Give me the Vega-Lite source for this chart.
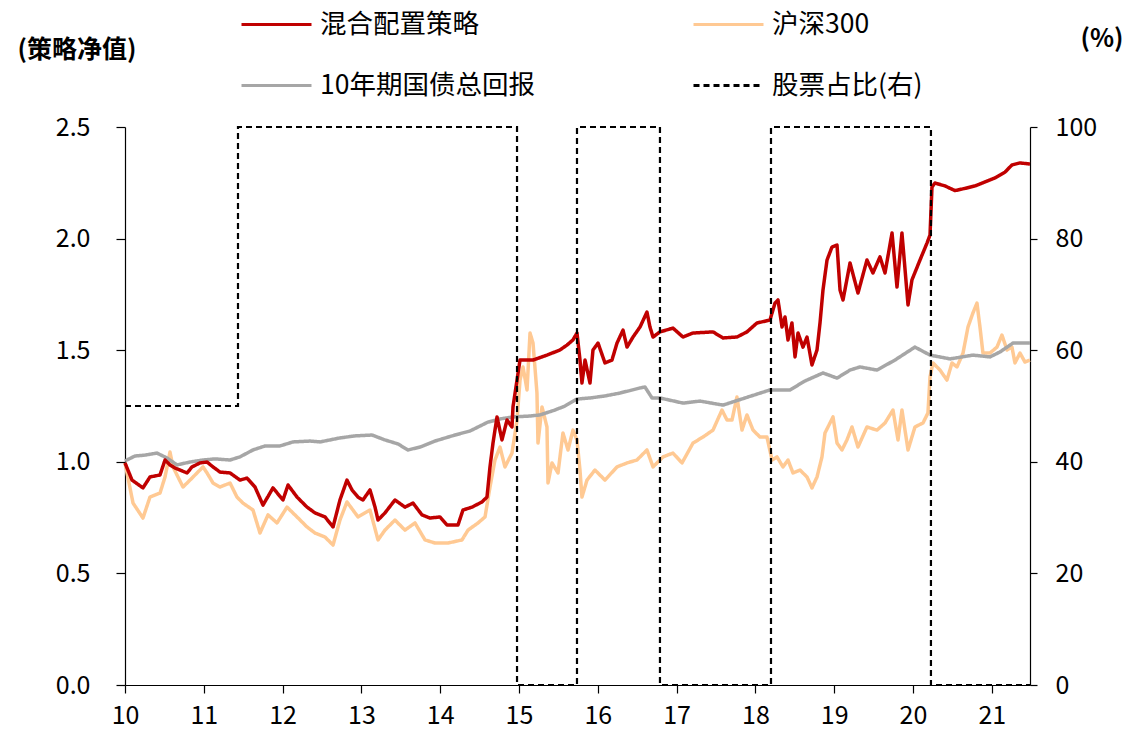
{
"$schema": "https://vega.github.io/schema/vega-lite/v6.json",
"width": 905, "height": 558,
"autosize": {"type": "none"},
"padding": {"left": 125, "top": 127, "right": 95, "bottom": 51},
"background": "white",
"config": {
 "view": {"stroke": null},
 "font": "Noto Sans CJK SC",
 "axis": {"grid": false, "domainColor": "#000", "tickColor": "#000", "labelColor": "#000", "titleColor": "#000", "labelFontSize": 25, "domainWidth": 1.2, "tickWidth": 1.2, "labelFont": "Noto Sans CJK SC", "titleFont": "Noto Sans CJK SC"},
 "legend": {"labelFont": "Noto Sans CJK SC"}
},
"datasets": {
 "nav": [
{"series":"混合配置策略","t":10.000,"v":0.995},{"series":"混合配置策略","t":10.089,"v":0.918},{"series":"混合配置策略","t":10.228,"v":0.883},{"series":"混合配置策略","t":10.317,"v":0.932},{"series":"混合配置策略","t":10.444,"v":0.941},{"series":"混合配置策略","t":10.508,"v":1.008},{"series":"混合配置策略","t":10.571,"v":0.986},{"series":"混合配置策略","t":10.635,"v":0.972},{"series":"混合配置策略","t":10.787,"v":0.950},{"series":"混合配置策略","t":10.850,"v":0.977},{"series":"混合配置策略","t":10.952,"v":0.995},{"series":"混合配置策略","t":11.041,"v":0.999},{"series":"混合配置策略","t":11.117,"v":0.977},{"series":"混合配置策略","t":11.206,"v":0.954},{"series":"混合配置策略","t":11.333,"v":0.950},{"series":"混合配置策略","t":11.459,"v":0.918},{"series":"混合配置策略","t":11.548,"v":0.927},{"series":"混合配置策略","t":11.650,"v":0.887},{"series":"混合配置策略","t":11.751,"v":0.806},{"series":"混合配置策略","t":11.878,"v":0.883},{"series":"混合配置策略","t":12.005,"v":0.829},{"series":"混合配置策略","t":12.069,"v":0.896},{"series":"混合配置策略","t":12.183,"v":0.842},{"series":"混合配置策略","t":12.310,"v":0.797},{"series":"混合配置策略","t":12.411,"v":0.771},{"series":"混合配置策略","t":12.538,"v":0.753},{"series":"混合配置策略","t":12.640,"v":0.708},{"series":"混合配置策略","t":12.728,"v":0.829},{"series":"混合配置策略","t":12.817,"v":0.918},{"series":"混合配置策略","t":12.881,"v":0.874},{"series":"混合配置策略","t":12.957,"v":0.842},{"series":"混合配置策略","t":13.020,"v":0.829},{"series":"混合配置策略","t":13.109,"v":0.874},{"series":"混合配置策略","t":13.173,"v":0.797},{"series":"混合配置策略","t":13.211,"v":0.739},{"series":"混合配置策略","t":13.299,"v":0.771},{"series":"混合配置策略","t":13.426,"v":0.829},{"series":"混合配置策略","t":13.553,"v":0.797},{"series":"混合配置策略","t":13.655,"v":0.815},{"series":"混合配置策略","t":13.769,"v":0.762},{"series":"混合配置策略","t":13.871,"v":0.748},{"series":"混合配置策略","t":13.997,"v":0.753},{"series":"混合配置策略","t":14.086,"v":0.717},{"series":"混合配置策略","t":14.226,"v":0.717},{"series":"混合配置策略","t":14.289,"v":0.784},{"series":"混合配置策略","t":14.404,"v":0.797},{"series":"混合配置策略","t":14.530,"v":0.820},{"series":"混合配置策略","t":14.594,"v":0.842},{"series":"混合配置策略","t":14.632,"v":0.977},{"series":"混合配置策略","t":14.670,"v":1.084},{"series":"混合配置策略","t":14.721,"v":1.201},{"series":"混合配置策略","t":14.784,"v":1.098},{"series":"混合配置策略","t":14.848,"v":1.187},{"series":"混合配置策略","t":14.911,"v":1.156},{"series":"混合配置策略","t":14.924,"v":1.246},{"series":"混合配置策略","t":14.975,"v":1.366},{"series":"混合配置策略","t":15.013,"v":1.456},{"series":"混合配置策略","t":15.178,"v":1.456},{"series":"混合配置策略","t":15.355,"v":1.478},{"series":"混合配置策略","t":15.520,"v":1.501},{"series":"混合配置策略","t":15.609,"v":1.523},{"series":"混合配置策略","t":15.685,"v":1.546},{"series":"混合配置策略","t":15.736,"v":1.577},{"series":"混合配置策略","t":15.774,"v":1.456},{"series":"混合配置策略","t":15.799,"v":1.353},{"series":"混合配置策略","t":15.838,"v":1.456},{"series":"混合配置策略","t":15.901,"v":1.353},{"series":"混合配置策略","t":15.939,"v":1.501},{"series":"混合配置策略","t":16.003,"v":1.532},{"series":"混合配置策略","t":16.091,"v":1.443},{"series":"混合配置策略","t":16.180,"v":1.456},{"series":"混合配置策略","t":16.244,"v":1.532},{"series":"混合配置策略","t":16.320,"v":1.590},{"series":"混合配置策略","t":16.371,"v":1.514},{"series":"混合配置策略","t":16.447,"v":1.559},{"series":"混合配置策略","t":16.536,"v":1.604},{"series":"混合配置策略","t":16.624,"v":1.671},{"series":"混合配置策略","t":16.662,"v":1.604},{"series":"混合配置策略","t":16.701,"v":1.559},{"series":"混合配置策略","t":16.789,"v":1.582},{"series":"混合配置策略","t":16.954,"v":1.599},{"series":"混合配置策略","t":17.081,"v":1.559},{"series":"混合配置策略","t":17.208,"v":1.577},{"series":"混合配置策略","t":17.462,"v":1.582},{"series":"混合配置策略","t":17.589,"v":1.555},{"series":"混合配置策略","t":17.766,"v":1.559},{"series":"混合配置策略","t":17.893,"v":1.582},{"series":"混合配置策略","t":18.020,"v":1.622},{"series":"混合配置策略","t":18.185,"v":1.635},{"series":"混合配置策略","t":18.249,"v":1.711},{"series":"混合配置策略","t":18.287,"v":1.725},{"series":"混合配置策略","t":18.338,"v":1.604},{"series":"混合配置策略","t":18.376,"v":1.649},{"series":"混合配置策略","t":18.414,"v":1.546},{"series":"混合配置策略","t":18.464,"v":1.622},{"series":"混合配置策略","t":18.503,"v":1.470},{"series":"混合配置策略","t":18.541,"v":1.577},{"series":"混合配置策略","t":18.604,"v":1.514},{"series":"混合配置策略","t":18.655,"v":1.559},{"series":"混合配置策略","t":18.718,"v":1.434},{"series":"混合配置策略","t":18.782,"v":1.501},{"series":"混合配置策略","t":18.820,"v":1.622},{"series":"混合配置策略","t":18.858,"v":1.770},{"series":"混合配置策略","t":18.909,"v":1.904},{"series":"混合配置策略","t":18.972,"v":1.962},{"series":"混合配置策略","t":19.036,"v":1.971},{"series":"混合配置策略","t":19.074,"v":1.770},{"series":"混合配置策略","t":19.112,"v":1.725},{"series":"混合配置策略","t":19.201,"v":1.891},{"series":"混合配置策略","t":19.302,"v":1.756},{"series":"混合配置策略","t":19.416,"v":1.904},{"series":"混合配置策略","t":19.492,"v":1.846},{"series":"混合配置策略","t":19.581,"v":1.918},{"series":"混合配置策略","t":19.645,"v":1.846},{"series":"混合配置策略","t":19.734,"v":2.025},{"series":"混合配置策略","t":19.797,"v":1.783},{"series":"混合配置策略","t":19.860,"v":2.025},{"series":"混合配置策略","t":19.937,"v":1.703},{"series":"混合配置策略","t":19.987,"v":1.815},{"series":"混合配置策略","t":20.089,"v":1.904},{"series":"混合配置策略","t":20.178,"v":1.980},{"series":"混合配置策略","t":20.216,"v":2.016},{"series":"混合配置策略","t":20.241,"v":2.231},{"series":"混合配置策略","t":20.279,"v":2.249},{"series":"混合配置策略","t":20.406,"v":2.236},{"series":"混合配置策略","t":20.533,"v":2.215},{"series":"混合配置策略","t":20.660,"v":2.225},{"series":"混合配置策略","t":20.787,"v":2.236},{"series":"混合配置策略","t":20.914,"v":2.254},{"series":"混合配置策略","t":21.041,"v":2.272},{"series":"混合配置策略","t":21.168,"v":2.298},{"series":"混合配置策略","t":21.256,"v":2.330},{"series":"混合配置策略","t":21.358,"v":2.339},{"series":"混合配置策略","t":21.485,"v":2.334},
{"series":"沪深300","t":10.000,"v":0.995},{"series":"沪深300","t":10.102,"v":0.815},{"series":"沪深300","t":10.228,"v":0.748},{"series":"沪深300","t":10.317,"v":0.842},{"series":"沪深300","t":10.444,"v":0.860},{"series":"沪深300","t":10.508,"v":0.932},{"series":"沪深300","t":10.571,"v":1.044},{"series":"沪深300","t":10.609,"v":0.977},{"series":"沪深300","t":10.736,"v":0.887},{"series":"沪深300","t":10.825,"v":0.918},{"series":"沪深300","t":10.914,"v":0.950},{"series":"沪深300","t":10.990,"v":0.977},{"series":"沪深300","t":11.041,"v":0.950},{"series":"沪深300","t":11.117,"v":0.905},{"series":"沪深300","t":11.206,"v":0.887},{"series":"沪深300","t":11.333,"v":0.905},{"series":"沪深300","t":11.421,"v":0.842},{"series":"沪深300","t":11.497,"v":0.815},{"series":"沪深300","t":11.624,"v":0.784},{"series":"沪深300","t":11.713,"v":0.681},{"series":"沪深300","t":11.815,"v":0.762},{"series":"沪深300","t":11.929,"v":0.726},{"series":"沪深300","t":12.056,"v":0.797},{"series":"沪深300","t":12.183,"v":0.753},{"series":"沪深300","t":12.310,"v":0.708},{"series":"沪深300","t":12.411,"v":0.681},{"series":"沪深300","t":12.538,"v":0.663},{"series":"沪深300","t":12.640,"v":0.627},{"series":"沪深300","t":12.728,"v":0.739},{"series":"沪深300","t":12.817,"v":0.820},{"series":"沪深300","t":12.957,"v":0.753},{"series":"沪深300","t":13.109,"v":0.784},{"series":"沪深300","t":13.211,"v":0.650},{"series":"沪深300","t":13.299,"v":0.694},{"series":"沪深300","t":13.426,"v":0.739},{"series":"沪深300","t":13.553,"v":0.694},{"series":"沪深300","t":13.680,"v":0.726},{"series":"沪深300","t":13.807,"v":0.650},{"series":"沪深300","t":13.934,"v":0.636},{"series":"沪深300","t":14.099,"v":0.636},{"series":"沪深300","t":14.277,"v":0.650},{"series":"沪深300","t":14.353,"v":0.694},{"series":"沪深300","t":14.480,"v":0.726},{"series":"沪深300","t":14.569,"v":0.753},{"series":"沪深300","t":14.632,"v":0.887},{"series":"沪深300","t":14.695,"v":1.008},{"series":"沪深300","t":14.759,"v":1.066},{"series":"沪深300","t":14.822,"v":0.977},{"series":"沪深300","t":14.911,"v":1.039},{"series":"沪深300","t":14.975,"v":1.187},{"series":"沪深300","t":15.013,"v":1.366},{"series":"沪深300","t":15.051,"v":1.425},{"series":"沪深300","t":15.102,"v":1.322},{"series":"沪深300","t":15.140,"v":1.577},{"series":"沪深300","t":15.178,"v":1.532},{"series":"沪深300","t":15.228,"v":1.308},{"series":"沪深300","t":15.241,"v":1.084},{"series":"沪深300","t":15.292,"v":1.246},{"series":"沪深300","t":15.355,"v":1.156},{"series":"沪深300","t":15.368,"v":0.905},{"series":"沪深300","t":15.419,"v":0.995},{"series":"沪深300","t":15.495,"v":0.950},{"series":"沪深300","t":15.558,"v":1.129},{"series":"沪深300","t":15.622,"v":1.053},{"series":"沪深300","t":15.685,"v":1.142},{"series":"沪深300","t":15.736,"v":1.098},{"series":"沪深300","t":15.774,"v":0.963},{"series":"沪深300","t":15.799,"v":0.842},{"series":"沪深300","t":15.863,"v":0.918},{"series":"沪深300","t":15.964,"v":0.963},{"series":"沪深300","t":16.091,"v":0.918},{"series":"沪深300","t":16.244,"v":0.977},{"series":"沪深300","t":16.371,"v":0.995},{"series":"沪深300","t":16.497,"v":1.008},{"series":"沪深300","t":16.624,"v":1.053},{"series":"沪深300","t":16.701,"v":0.977},{"series":"沪深300","t":16.827,"v":1.022},{"series":"沪深300","t":16.954,"v":1.039},{"series":"沪深300","t":17.069,"v":0.995},{"series":"沪深300","t":17.208,"v":1.084},{"series":"沪深300","t":17.335,"v":1.111},{"series":"沪深300","t":17.462,"v":1.142},{"series":"沪深300","t":17.576,"v":1.232},{"series":"沪深300","t":17.640,"v":1.187},{"series":"沪深300","t":17.703,"v":1.187},{"series":"沪深300","t":17.766,"v":1.290},{"series":"沪深300","t":17.830,"v":1.142},{"series":"沪深300","t":17.893,"v":1.210},{"series":"沪深300","t":17.970,"v":1.142},{"series":"沪深300","t":18.058,"v":1.111},{"series":"沪深300","t":18.147,"v":1.111},{"series":"沪深300","t":18.211,"v":1.008},{"series":"沪深300","t":18.274,"v":1.022},{"series":"沪深300","t":18.350,"v":0.977},{"series":"沪深300","t":18.414,"v":1.008},{"series":"沪深300","t":18.477,"v":0.950},{"series":"沪深300","t":18.566,"v":0.963},{"series":"沪深300","t":18.655,"v":0.932},{"series":"沪深300","t":18.718,"v":0.883},{"series":"沪深300","t":18.782,"v":0.932},{"series":"沪深300","t":18.845,"v":1.022},{"series":"沪深300","t":18.883,"v":1.129},{"series":"沪深300","t":18.947,"v":1.174},{"series":"沪深300","t":18.985,"v":1.201},{"series":"沪深300","t":19.036,"v":1.084},{"series":"沪深300","t":19.099,"v":1.053},{"series":"沪深300","t":19.162,"v":1.098},{"series":"沪深300","t":19.226,"v":1.156},{"series":"沪深300","t":19.302,"v":1.066},{"series":"沪深300","t":19.416,"v":1.156},{"series":"沪深300","t":19.543,"v":1.142},{"series":"沪深300","t":19.645,"v":1.174},{"series":"沪深300","t":19.746,"v":1.232},{"series":"沪深300","t":19.810,"v":1.098},{"series":"沪深300","t":19.860,"v":1.232},{"series":"沪深300","t":19.937,"v":1.053},{"series":"沪深300","t":20.025,"v":1.156},{"series":"沪深300","t":20.127,"v":1.174},{"series":"沪深300","t":20.190,"v":1.219},{"series":"沪深300","t":20.216,"v":1.380},{"series":"沪深300","t":20.254,"v":1.443},{"series":"沪深300","t":20.343,"v":1.411},{"series":"沪深300","t":20.431,"v":1.366},{"series":"沪深300","t":20.495,"v":1.443},{"series":"沪深300","t":20.558,"v":1.425},{"series":"沪深300","t":20.635,"v":1.487},{"series":"沪深300","t":20.698,"v":1.604},{"series":"沪深300","t":20.761,"v":1.667},{"series":"沪深300","t":20.812,"v":1.711},{"series":"沪深300","t":20.850,"v":1.604},{"series":"沪深300","t":20.888,"v":1.487},{"series":"沪深300","t":20.977,"v":1.487},{"series":"沪深300","t":21.066,"v":1.514},{"series":"沪深300","t":21.129,"v":1.568},{"series":"沪深300","t":21.193,"v":1.501},{"series":"沪深300","t":21.256,"v":1.514},{"series":"沪深300","t":21.294,"v":1.443},{"series":"沪深300","t":21.358,"v":1.487},{"series":"沪深300","t":21.421,"v":1.447},{"series":"沪深300","t":21.485,"v":1.456},
{"series":"10年期国债总回报","t":10.000,"v":1.004},{"series":"10年期国债总回报","t":10.127,"v":1.026},{"series":"10年期国债总回报","t":10.254,"v":1.030},{"series":"10年期国债总回报","t":10.406,"v":1.039},{"series":"10年期国债总回报","t":10.533,"v":1.017},{"series":"10年期国债总回报","t":10.660,"v":0.986},{"series":"10年期国债总回报","t":10.825,"v":0.999},{"series":"10年期国债总回报","t":10.990,"v":1.008},{"series":"10年期国债总回报","t":11.142,"v":1.013},{"series":"10年期国债总回报","t":11.333,"v":1.008},{"series":"10年期国债总回报","t":11.459,"v":1.022},{"series":"10年期国债总回报","t":11.624,"v":1.053},{"series":"10年期国债总回报","t":11.777,"v":1.071},{"series":"10年期国债总回报","t":11.967,"v":1.071},{"series":"10年期国债总回报","t":12.132,"v":1.089},{"series":"10年期国债总回报","t":12.348,"v":1.093},{"series":"10年期国债总回报","t":12.475,"v":1.089},{"series":"10年期国债总回报","t":12.728,"v":1.107},{"series":"10年期国债总回报","t":12.919,"v":1.116},{"series":"10年期国债总回报","t":13.135,"v":1.120},{"series":"10年期国债总回报","t":13.299,"v":1.098},{"series":"10年期国债总回报","t":13.464,"v":1.080},{"series":"10年期国债总回报","t":13.591,"v":1.053},{"series":"10年期国债总回报","t":13.744,"v":1.066},{"series":"10年期国债总回报","t":13.934,"v":1.093},{"series":"10年期国债总回报","t":14.188,"v":1.120},{"series":"10年期国债总回报","t":14.378,"v":1.138},{"series":"10年期国债总回报","t":14.607,"v":1.178},{"series":"10年期国债总回报","t":14.759,"v":1.192},{"series":"10年期国债总回报","t":14.924,"v":1.201},{"series":"10年期国债总回报","t":15.140,"v":1.205},{"series":"10年期国债总回报","t":15.266,"v":1.210},{"series":"10年期国债总回报","t":15.457,"v":1.232},{"series":"10年期国债总回报","t":15.584,"v":1.250},{"series":"10年期国债总回报","t":15.736,"v":1.281},{"series":"10年期国债总回报","t":15.901,"v":1.286},{"series":"10年期国债总回报","t":16.091,"v":1.295},{"series":"10年期国债总回报","t":16.282,"v":1.308},{"series":"10年期国债总回报","t":16.536,"v":1.331},{"series":"10年期国债总回报","t":16.599,"v":1.335},{"series":"10年期国债总回报","t":16.688,"v":1.286},{"series":"10年期国债总回报","t":16.789,"v":1.286},{"series":"10年期国债总回报","t":17.081,"v":1.263},{"series":"10年期国债总回报","t":17.297,"v":1.272},{"series":"10年期国债总回报","t":17.589,"v":1.254},{"series":"10年期国债总回报","t":17.868,"v":1.286},{"series":"10年期国债总回报","t":18.185,"v":1.322},{"series":"10年期国债总回报","t":18.439,"v":1.322},{"series":"10年期国债总回报","t":18.629,"v":1.362},{"series":"10年期国债总回报","t":18.858,"v":1.398},{"series":"10年期国债总回报","t":19.036,"v":1.375},{"series":"10年期国债总回报","t":19.201,"v":1.411},{"series":"10年期国债总回报","t":19.327,"v":1.425},{"series":"10年期国债总回报","t":19.543,"v":1.411},{"series":"10年期国债总回报","t":19.772,"v":1.456},{"series":"10年期国债总回报","t":20.025,"v":1.514},{"series":"10年期国债总回报","t":20.216,"v":1.478},{"series":"10年期国债总回报","t":20.470,"v":1.461},{"series":"10年期国债总回报","t":20.761,"v":1.478},{"series":"10年期国债总回报","t":20.977,"v":1.470},{"series":"10年期国债总回报","t":21.104,"v":1.492},{"series":"10年期国债总回报","t":21.269,"v":1.532},{"series":"10年期国债总回报","t":21.485,"v":1.532}
 ],
 "stock": [
{"series":"股票占比(右)","i":1,"t":10.000,"pct":50},{"series":"股票占比(右)","i":2,"t":11.434,"pct":50},{"series":"股票占比(右)","i":3,"t":11.434,"pct":100},{"series":"股票占比(右)","i":4,"t":14.975,"pct":100},{"series":"股票占比(右)","i":5,"t":14.975,"pct":0},{"series":"股票占比(右)","i":6,"t":15.736,"pct":0},{"series":"股票占比(右)","i":7,"t":15.736,"pct":100},{"series":"股票占比(右)","i":8,"t":16.789,"pct":100},{"series":"股票占比(右)","i":9,"t":16.789,"pct":0},{"series":"股票占比(右)","i":10,"t":18.198,"pct":0},{"series":"股票占比(右)","i":11,"t":18.198,"pct":100},{"series":"股票占比(右)","i":12,"t":20.228,"pct":100},{"series":"股票占比(右)","i":13,"t":20.228,"pct":0},{"series":"股票占比(右)","i":14,"t":21.485,"pct":0}
 ]
},
"encoding": {
 "x": {"field": "t", "type": "quantitative", "scale": {"domain": [10, 21.485], "nice": false, "zero": false},
  "axis": {"title": null, "values": [10,11,12,13,14,15,16,17,18,19,20,21], "format": "d", "tickSize": 8, "labelPadding": 10, "labelFlush": false}},
 "color": {"field": "series", "type": "nominal",
  "scale": {"domain": ["混合配置策略","10年期国债总回报","沪深300","股票占比(右)"], "range": ["#C00000","#A6A6A6","#FFC993","#000000"]},
  "legend": {"title": null, "orient": "none", "legendX": 115, "legendY": -139, "columns": 2, "columnPadding": 152, "rowPadding": 11, "symbolType": "stroke", "symbolSize": 4900, "symbolStrokeWidth": 3, "labelFontSize": 26.5, "labelOffset": 7, "labelColor": "#000", "labelLimit": 400}},
 "strokeDash": {"field": "series", "type": "nominal",
  "scale": {"domain": ["混合配置策略","10年期国债总回报","沪深300","股票占比(右)"], "range": [[1,0],[1,0],[1,0],[6,4]]},
  "legend": {"title": null, "orient": "none", "legendX": 115, "legendY": -139, "columns": 2, "columnPadding": 152, "rowPadding": 11, "symbolType": "stroke", "symbolSize": 4900, "symbolStrokeWidth": 3, "labelFontSize": 26.5, "labelOffset": 7, "labelColor": "#000", "labelLimit": 400}}
},
"layer": [
 {
  "encoding": {
   "y": {"field": "v", "type": "quantitative", "scale": {"domain": [0, 2.5], "nice": false, "zero": true},
    "axis": {"orient": "left", "values": [0,0.5,1,1.5,2,2.5], "format": ".1f", "tickSize": 9, "labelPadding": 26,
     "title": "(策略净值)", "titleAngle": 0, "titleFontSize": 25, "titleFontWeight": "bold", "titleX": -108, "titleY": -78, "titleAlign": "left", "titleBaseline": "middle"}}
  },
  "layer": [
   {"data": {"name": "nav"}, "transform": [{"filter": "datum.series === '沪深300'"}], "mark": {"type": "line", "strokeWidth": 3.5, "strokeJoin": "round"}},
   {"data": {"name": "nav"}, "transform": [{"filter": "datum.series === '10年期国债总回报'"}], "mark": {"type": "line", "strokeWidth": 3.5, "strokeJoin": "round"}},
   {"data": {"name": "nav"}, "transform": [{"filter": "datum.series === '混合配置策略'"}], "mark": {"type": "line", "strokeWidth": 3.5, "strokeJoin": "round"}}
  ]
 },
 {
  "data": {"name": "stock"},
  "mark": {"type": "line", "strokeWidth": 2.2},
  "encoding": {
   "order": {"field": "i", "type": "quantitative"},
   "y": {"field": "pct", "type": "quantitative", "scale": {"domain": [0, 100], "nice": false},
    "axis": {"orient": "right", "values": [0,20,40,60,80,100], "tickSize": 7, "labelPadding": 18,
     "title": "(%)", "titleAngle": 0, "titleFontSize": 25, "titleFontWeight": "bold", "titleX": 50, "titleY": -89, "titleAlign": "left", "titleBaseline": "middle"}}
  }
 }
],
"resolve": {"scale": {"y": "independent"}}
}
